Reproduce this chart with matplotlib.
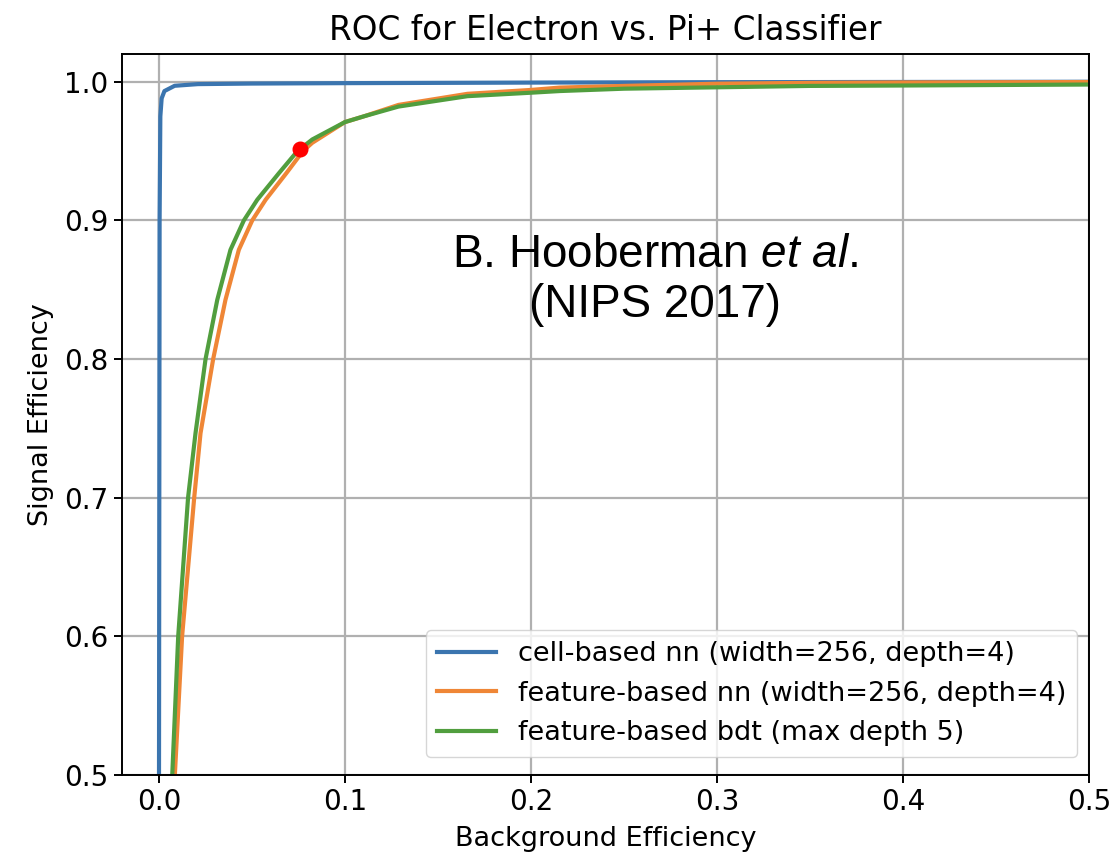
import matplotlib
matplotlib.use("Agg")
import matplotlib.pyplot as plt

# ROC curves (background efficiency, signal efficiency)
cell_nn_fpr = [0.0, 0.0004, 0.0008, 0.0015, 0.003, 0.0085, 0.021, 0.05, 0.1, 0.2, 0.3, 0.5]
cell_nn_tpr = [0.40, 0.90, 0.975, 0.988, 0.9933, 0.9971, 0.9983, 0.9987, 0.999, 0.9994, 0.9997, 1.0]

feat_nn_fpr = [0.0068, 0.0086, 0.0125, 0.019, 0.0224, 0.0292, 0.0358, 0.043, 0.0502,
               0.0574, 0.0685, 0.0775, 0.0825, 0.1, 0.1103, 0.1288, 0.1659, 0.2, 0.2155,
               0.25, 0.3, 0.35, 0.4, 0.5]
feat_nn_tpr = [0.45, 0.50, 0.60, 0.70, 0.7465, 0.80, 0.8427, 0.8788, 0.90,
               0.9149, 0.934, 0.950, 0.956, 0.9709, 0.9751, 0.9833, 0.9913, 0.9941, 0.9958,
               0.997, 0.9986, 0.9992, 0.9995, 0.9998]

bdt_fpr = [0.0055, 0.0072, 0.0104, 0.0157, 0.0197, 0.0251, 0.0314, 0.0385, 0.0457,
           0.0529, 0.0645, 0.0745, 0.0825, 0.1, 0.1103, 0.1288, 0.1659, 0.2, 0.2155,
           0.25, 0.3, 0.35, 0.4, 0.5]
bdt_tpr = [0.45, 0.50, 0.60, 0.70, 0.7465, 0.80, 0.8427, 0.8788, 0.90,
           0.9149, 0.934, 0.950, 0.9584, 0.9709, 0.9751, 0.9821, 0.9896, 0.9921, 0.9933,
           0.995, 0.996, 0.997, 0.9973, 0.998]

labels = [
    "cell-based nn (width=256, depth=4)",
    "feature-based nn (width=256, depth=4)",
    "feature-based bdt (max depth 5)",
]
colors = ["#3b75af", "#ef8636", "#519e3e"]

working_point = (0.076, 0.9515)

plt.rcParams["font.family"] = ["DejaVu Sans"]
plt.rcParams["mathtext.fontset"] = "custom"
plt.rcParams["mathtext.rm"] = "Liberation Sans"
plt.rcParams["mathtext.it"] = "Liberation Sans:italic"

fig = plt.figure(figsize=(11.13, 8.59), dpi=100)
ax = fig.add_axes([0.1093, 0.0978, 0.9784 - 0.1093, 0.9371 - 0.0978])

ax.plot(cell_nn_fpr, cell_nn_tpr, color=colors[0], lw=3, label=labels[0])
ax.plot(feat_nn_fpr, feat_nn_tpr, color=colors[1], lw=3, label=labels[1])
ax.plot(bdt_fpr, bdt_tpr, color=colors[2], lw=3, label=labels[2])
ax.plot(*working_point, "o", color="red", markersize=10.5)

ax.set_xlim(-0.02, 0.5)
ax.set_ylim(0.5, 1.02)
ax.set_xticks([0.0, 0.1, 0.2, 0.3, 0.4, 0.5])
ax.set_yticks([0.5, 0.6, 0.7, 0.8, 0.9, 1.0])
ax.grid(True, color="#b0b0b0", lw=1.6)
ax.tick_params(labelsize=20, length=6, width=1.4)
for s in ax.spines.values():
    s.set_linewidth(1.4)

ax.set_xlabel("Background Efficiency", fontsize=19.5, labelpad=7)
ax.set_ylabel("Signal Efficiency", fontsize=19.5, labelpad=7)
ax.set_title("ROC for Electron vs. Pi+ Classifier", fontsize=23.5, pad=10)

ax.text(0.2667, 0.857, "B. Hooberman $et\\ al.$\n(NIPS 2017)",
        fontsize=33, family="Liberation Sans", ha="center", va="center",
        multialignment="center")

ax.legend(loc="lower right", fontsize=19.5, handlelength=2.2,
          bbox_to_anchor=(0.9876, 0.025), borderaxespad=0)

fig.savefig("out.png", dpi=100)
